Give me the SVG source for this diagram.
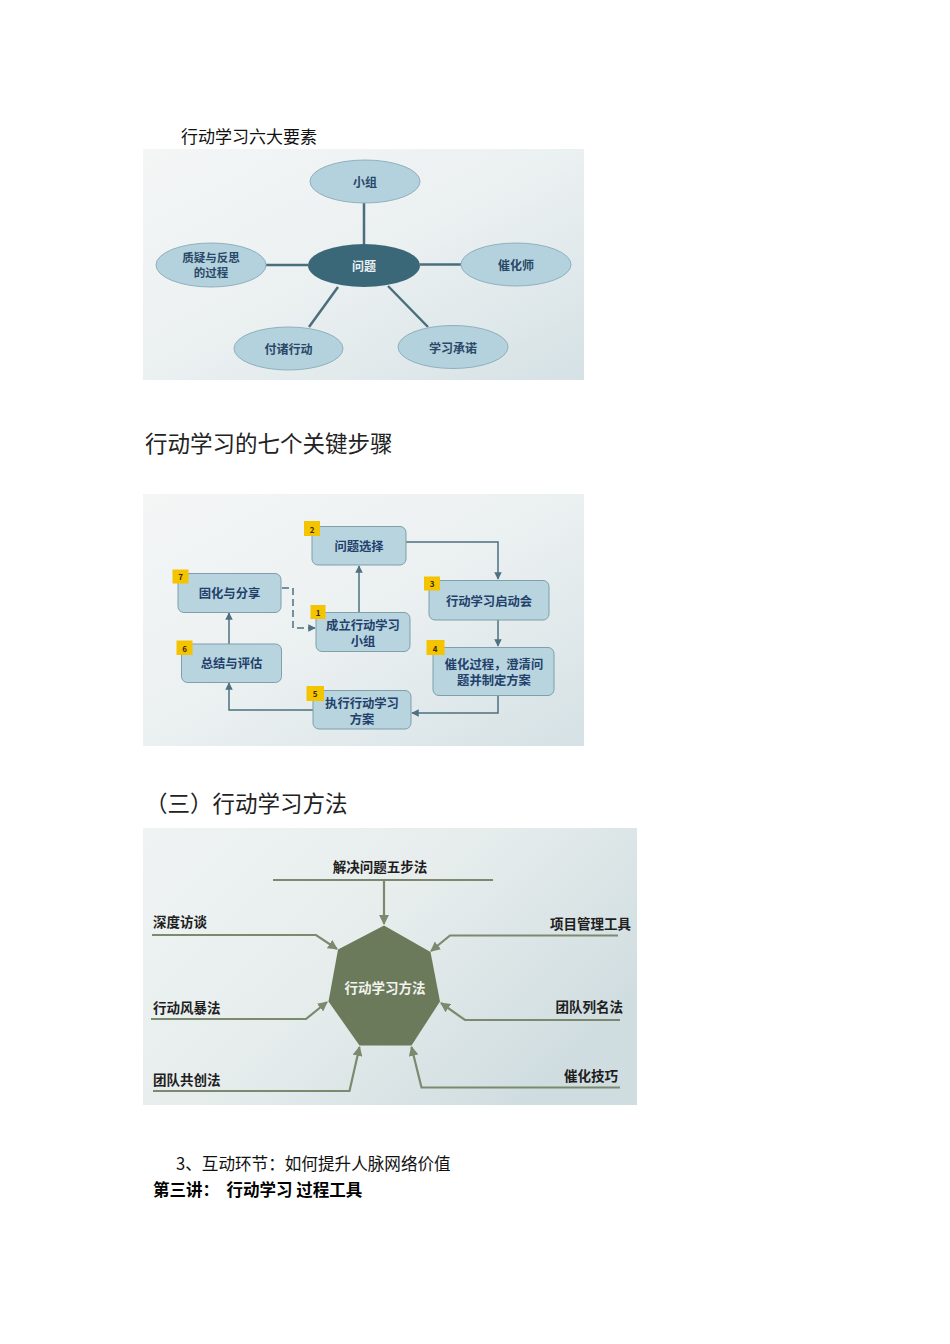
<svg xmlns="http://www.w3.org/2000/svg" width="950" height="1344" viewBox="0 0 950 1344">
<defs>
<linearGradient id="bg1" x1="0" y1="0" x2="1" y2="1">
<stop offset="0" stop-color="#f4f6f6"/>
<stop offset="0.5" stop-color="#ebf0f1"/>
<stop offset="1" stop-color="#d5e1e5"/>
</linearGradient>
<linearGradient id="bg3" x1="0" y1="0" x2="1" y2="0.6">
<stop offset="0" stop-color="#eff3f3"/>
<stop offset="0.5" stop-color="#e7eded"/>
<stop offset="1" stop-color="#d0dde0"/>
</linearGradient>
<marker id="arB" viewBox="0 0 10 10" refX="9" refY="5" markerWidth="5" markerHeight="5" orient="auto">
<path d="M0,0 L10,5 L0,10 z" fill="#4e7080"/>
</marker>
<marker id="arG" viewBox="0 0 10 10" refX="9" refY="5" markerWidth="4.5" markerHeight="4.5" orient="auto">
<path d="M0,0 L10,5 L0,10 z" fill="#7b8a6e"/>
</marker>
</defs>
<style>
text{font-family:"Noto Sans CJK SC",sans-serif;}
.title{font-size:17px;fill:#111;}
.title2{font-size:22.5px;fill:#222;}
.el{fill:#b4d2dd;stroke:#8fb0bd;stroke-width:1;}
.elt{font-size:12px;font-weight:bold;fill:#2a4868;text-anchor:middle;dominant-baseline:central;}
.l1{stroke:#4a6f7c;stroke-width:2.5;fill:none;}
.bx{fill:#b7d4df;stroke:#7f9faa;stroke-width:1;}
.bxt{font-size:12.3px;font-weight:bold;fill:#23406b;text-anchor:middle;dominant-baseline:central;}
.bd{fill:#f5c400;}
.bdt{font-size:8px;font-weight:bold;fill:#3a2a00;text-anchor:middle;dominant-baseline:central;}
.l2{stroke:#4e7080;stroke-width:1.5;fill:none;}
.l3{stroke:#7b8a6e;stroke-width:2.2;fill:none;}
.lb3{font-size:13.5px;font-weight:bold;fill:#1e1e1e;dominant-baseline:central;}
</style>

<text class="title" x="181" y="143">行动学习六大要素</text>
<rect x="143" y="149" width="441" height="231" fill="url(#bg1)"/>
<g id="connectors1">
<line class="l1" x1="364" y1="203" x2="364" y2="244"/>
<line class="l1" x1="266" y1="265" x2="308" y2="265"/>
<line class="l1" x1="420" y1="264.5" x2="461" y2="264.5"/>
<line class="l1" x1="338" y1="287" x2="309" y2="327"/>
<line class="l1" x1="388" y1="286" x2="428" y2="327"/>
</g>
<g id="n-xiaozu"><ellipse class="el" cx="365" cy="181.5" rx="55" ry="21.5"/><text class="elt" x="365" y="181.5">小组</text></g>
<g id="n-wenti"><ellipse cx="364" cy="265.5" rx="56" ry="21.5" fill="#3b6878"/><text class="elt" x="364" y="265.5" style="fill:#e8f0f2">问题</text></g>
<g id="n-zhiyi"><ellipse class="el" cx="211" cy="265" rx="55" ry="22"/><text class="elt" x="211" y="257" style="font-size:11.5px">质疑与反思</text><text class="elt" x="211" y="272" style="font-size:11.5px">的过程</text></g>
<g id="n-cuihuashi"><ellipse class="el" cx="516" cy="264.5" rx="55" ry="21.5"/><text class="elt" x="516" y="264.5">催化师</text></g>
<g id="n-fuzhu"><ellipse class="el" cx="288.5" cy="348.5" rx="54.5" ry="21.5"/><text class="elt" x="288.5" y="348.5">付诸行动</text></g>
<g id="n-chengnuo"><ellipse class="el" cx="453" cy="347" rx="55" ry="21.5"/><text class="elt" x="453" y="347">学习承诺</text></g>

<text class="title2" x="145" y="452">行动学习的七个关键步骤</text>
<rect x="143" y="494" width="441" height="252" fill="url(#bg1)"/>
<g id="connectors2">
<path class="l2" d="M406,542 H498 V579" marker-end="url(#arB)"/>
<path class="l2" d="M498,620 V646" marker-end="url(#arB)"/>
<path class="l2" d="M498,695.5 V713 H412" marker-end="url(#arB)"/>
<path class="l2" d="M313,710 H229 V683" marker-end="url(#arB)"/>
<path class="l2" d="M229,644 V613" marker-end="url(#arB)"/>
<path class="l2" d="M359,612 V566" marker-end="url(#arB)"/>
<path class="l2" d="M282,588 H293 V628 H315" stroke-dasharray="7,4" marker-end="url(#arB)"/>
</g>
<g id="s2"><rect class="bx" x="312" y="526.5" width="94" height="38.5" rx="6"/><rect class="bd" x="304" y="521" width="16" height="15"/><text class="bdt" x="312" y="529">2</text><text class="bxt" x="359" y="546">问题选择</text></g>
<g id="s7"><rect class="bx" x="178" y="573.5" width="103" height="39" rx="6"/><rect class="bd" x="172.5" y="569.5" width="16" height="14"/><text class="bdt" x="180.5" y="576.5">7</text><text class="bxt" x="229.5" y="593">固化与分享</text></g>
<g id="s1"><rect class="bx" x="316" y="612.5" width="94" height="39" rx="6"/><rect class="bd" x="310.5" y="605" width="15" height="14"/><text class="bdt" x="318" y="612">1</text><text class="bxt" x="363" y="625">成立行动学习</text><text class="bxt" x="363" y="640.5">小组</text></g>
<g id="s3"><rect class="bx" x="429" y="580.5" width="120" height="39.5" rx="6"/><rect class="bd" x="424" y="576.5" width="16" height="14"/><text class="bdt" x="432" y="583.5">3</text><text class="bxt" x="489" y="600.5">行动学习启动会</text></g>
<g id="s6"><rect class="bx" x="181.5" y="644" width="100" height="38.5" rx="6"/><rect class="bd" x="176.5" y="640.5" width="16" height="14.5"/><text class="bdt" x="184.5" y="648">6</text><text class="bxt" x="231.5" y="663">总结与评估</text></g>
<g id="s4"><rect class="bx" x="433" y="647.5" width="121" height="48" rx="6"/><rect class="bd" x="426.5" y="640" width="18" height="15"/><text class="bdt" x="435" y="648">4</text><text class="bxt" x="494" y="664">催化过程，澄清问</text><text class="bxt" x="494" y="680">题并制定方案</text></g>
<g id="s5"><rect class="bx" x="313" y="690.5" width="98" height="38.5" rx="6"/><rect class="bd" x="306.5" y="686" width="17.5" height="15"/><text class="bdt" x="315" y="693.5">5</text><text class="bxt" x="362" y="703">执行行动学习</text><text class="bxt" x="362" y="719">方案</text></g>

<text class="title2" x="145" y="812">（三）行动学习方法</text>
<rect x="143" y="828" width="494" height="277" fill="url(#bg3)"/>
<g id="connectors3">
<line class="l3" x1="273" y1="880" x2="493" y2="880"/>
<path class="l3" d="M384,880 V924" marker-end="url(#arG)"/>
<path class="l3" d="M152,935 H316 L337,949" marker-end="url(#arG)"/>
<path class="l3" d="M618,935.5 H450 L431,951" marker-end="url(#arG)"/>
<path class="l3" d="M151,1019 H306 L327,1002" marker-end="url(#arG)"/>
<path class="l3" d="M620,1020 H465 L441,1003" marker-end="url(#arG)"/>
<path class="l3" d="M153,1091 H349.5 L359.5,1047" marker-end="url(#arG)"/>
<path class="l3" d="M620,1087.5 H421.5 L411.5,1047" marker-end="url(#arG)"/>
</g>
<g id="hub"><polygon points="384,925.5 430.5,952 440,1001.5 411.5,1045.5 359.5,1045.5 328.5,1001.5 338,949.5" fill="#6b7a5a"/><text x="385" y="987" style="font-size:13.5px;font-weight:bold;fill:#f2f2ee;text-anchor:middle;dominant-baseline:central">行动学习方法</text></g>
<g id="m-top"><text class="lb3" x="380" y="866" text-anchor="middle">解决问题五步法</text></g>
<g id="m-sdft"><text class="lb3" x="153" y="920.5">深度访谈</text></g>
<g id="m-xmgl"><text class="lb3" x="631" y="923" text-anchor="end">项目管理工具</text></g>
<g id="m-xdfb"><text class="lb3" x="153" y="1007">行动风暴法</text></g>
<g id="m-tdlm"><text class="lb3" x="623" y="1006" text-anchor="end">团队列名法</text></g>
<g id="m-tdgc"><text class="lb3" x="153" y="1078.5">团队共创法</text></g>
<g id="m-chjq"><text class="lb3" x="618" y="1075" text-anchor="end">催化技巧</text></g>

<text x="176" y="1170" style="font-size:16.6px;fill:#111">3、互动环节：如何提升人脉网络价值</text>
<text x="153" y="1196" xml:space="preserve" style="font-size:16.5px;font-weight:bold;fill:#000">第三讲：  行动学习 过程工具</text>
</svg>
